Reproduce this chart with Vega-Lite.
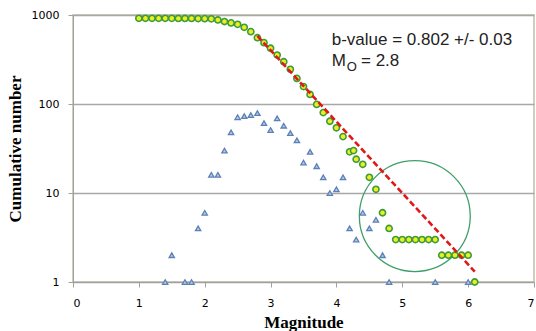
{
  "$schema": "https://vega.github.io/schema/vega-lite/v6.json",
  "width": 461,
  "height": 267,
  "autosize": {"type": "none"},
  "padding": {"left": 73, "top": 15, "right": 2, "bottom": 49},
  "background": "white",
  "config": {
    "view": {"stroke": "#c2bea4", "strokeWidth": 1.5},
    "axis": {
      "labelFont": "DejaVu Sans",
      "labelFontSize": 11,
      "labelColor": "#000000",
      "domainColor": "#a0a0a0",
      "tickColor": "#a0a0a0",
      "tickSize": 5,
      "titleFont": "Liberation Serif",
      "titleFontSize": 17,
      "titleFontWeight": "bold",
      "titleColor": "#000000"
    }
  },
  "datasets": {
    "cum": [
      {"M": 1.0, "N": 918}, {"M": 1.1, "N": 918}, {"M": 1.2, "N": 918}, {"M": 1.3, "N": 918},
      {"M": 1.4, "N": 918}, {"M": 1.5, "N": 917}, {"M": 1.6, "N": 915}, {"M": 1.7, "N": 915},
      {"M": 1.8, "N": 914}, {"M": 1.9, "N": 913}, {"M": 2.0, "N": 910}, {"M": 2.1, "N": 905},
      {"M": 2.2, "N": 879}, {"M": 2.3, "N": 845}, {"M": 2.4, "N": 815}, {"M": 2.5, "N": 785},
      {"M": 2.6, "N": 728}, {"M": 2.7, "N": 650}, {"M": 2.8, "N": 556}, {"M": 2.9, "N": 489},
      {"M": 3.0, "N": 423}, {"M": 3.1, "N": 355}, {"M": 3.2, "N": 299}, {"M": 3.3, "N": 245},
      {"M": 3.4, "N": 194}, {"M": 3.5, "N": 157}, {"M": 3.6, "N": 128}, {"M": 3.7, "N": 99},
      {"M": 3.8, "N": 80}, {"M": 3.9, "N": 64}, {"M": 4.0, "N": 54}, {"M": 4.1, "N": 43},
      {"M": 4.2, "N": 29}, {"M": 4.26, "N": 30}, {"M": 4.3, "N": 24}, {"M": 4.4, "N": 21},
      {"M": 4.5, "N": 15}, {"M": 4.6, "N": 11}, {"M": 4.7, "N": 6}, {"M": 4.8, "N": 4},
      {"M": 4.9, "N": 3}, {"M": 5.0, "N": 3}, {"M": 5.1, "N": 3}, {"M": 5.2, "N": 3},
      {"M": 5.3, "N": 3}, {"M": 5.4, "N": 3}, {"M": 5.5, "N": 3}, {"M": 5.6, "N": 2},
      {"M": 5.7, "N": 2}, {"M": 5.8, "N": 2}, {"M": 5.9, "N": 2}, {"M": 6.0, "N": 2},
      {"M": 6.1, "N": 1}
    ],
    "inc": [
      {"M": 1.4, "N": 1}, {"M": 1.5, "N": 2}, {"M": 1.7, "N": 1}, {"M": 1.8, "N": 1},
      {"M": 1.9, "N": 4}, {"M": 2.0, "N": 6}, {"M": 2.1, "N": 16}, {"M": 2.2, "N": 16},
      {"M": 2.3, "N": 30}, {"M": 2.4, "N": 48}, {"M": 2.5, "N": 71}, {"M": 2.6, "N": 73},
      {"M": 2.7, "N": 75}, {"M": 2.8, "N": 79}, {"M": 2.9, "N": 61}, {"M": 3.0, "N": 51},
      {"M": 3.1, "N": 69}, {"M": 3.2, "N": 57}, {"M": 3.3, "N": 47}, {"M": 3.4, "N": 39},
      {"M": 3.5, "N": 22}, {"M": 3.6, "N": 29}, {"M": 3.7, "N": 20}, {"M": 3.8, "N": 15},
      {"M": 3.9, "N": 10}, {"M": 4.0, "N": 11}, {"M": 4.1, "N": 15}, {"M": 4.2, "N": 4},
      {"M": 4.3, "N": 3}, {"M": 4.4, "N": 6}, {"M": 4.5, "N": 4}, {"M": 4.6, "N": 5},
      {"M": 4.7, "N": 2}, {"M": 4.8, "N": 1}, {"M": 5.5, "N": 1}, {"M": 6.0, "N": 1}
    ],
    "fit": [{"M": 2.8, "N": 581}, {"M": 6.1, "N": 1.31}],
    "circ": [{"M": 5.19, "N": 5.5}],
    "txt": [
      {"M": 3.928, "N": 460, "label": "b-value = 0.802 +/- 0.03"},
      {"M": 3.928, "N": 267, "label": "M"},
      {"M": 4.373, "N": 267, "label": "= 2.8"}
    ],
    "sub": [{"M": 4.156, "N": 232, "label": "O"}]
  },
  "encoding": {
    "x": {
      "field": "M", "type": "quantitative",
      "scale": {"domain": [0, 7], "nice": false, "zero": false},
      "axis": {"title": "Magnitude", "values": [0, 1, 2, 3, 4, 5, 6, 7], "grid": false, "labelPadding": 10, "titlePadding": 6}
    },
    "y": {
      "field": "N", "type": "quantitative",
      "scale": {"type": "log", "domain": [1, 1000], "nice": false},
      "axis": {"title": "Cumulative number", "values": [1, 10, 100, 1000], "format": "d", "grid": true, "gridColor": "#a8a8a8", "gridWidth": 1.5, "labelPadding": 9, "titlePadding": 7}
    }
  },
  "layer": [
    {
      "data": {"name": "circ"},
      "mark": {"type": "point", "shape": "circle", "filled": false, "size": 12300, "stroke": "#3f9f6a", "strokeWidth": 1.3, "opacity": 1}
    },
    {
      "data": {"name": "inc"},
      "mark": {"type": "point", "shape": "triangle-up", "size": 28, "filled": true, "fill": "#b6c8e6", "stroke": "#5b80b8", "strokeWidth": 1.3, "opacity": 1}
    },
    {
      "data": {"name": "cum"},
      "mark": {"type": "point", "shape": "circle", "size": 38, "filled": true, "fill": "#eaf020", "stroke": "#3d9a3d", "strokeWidth": 1.6, "opacity": 1}
    },
    {
      "data": {"name": "fit"},
      "mark": {"type": "line", "color": "#e01818", "strokeWidth": 2.6, "strokeDash": [6, 3]}
    },
    {
      "data": {"name": "txt"},
      "mark": {"type": "text", "align": "left", "baseline": "alphabetic", "font": "Liberation Sans", "fontSize": 17, "color": "#222222"},
      "encoding": {"text": {"field": "label"}}
    },
    {
      "data": {"name": "sub"},
      "mark": {"type": "text", "align": "left", "baseline": "alphabetic", "font": "Liberation Sans", "fontSize": 13, "color": "#222222"},
      "encoding": {"text": {"field": "label"}}
    }
  ]
}
